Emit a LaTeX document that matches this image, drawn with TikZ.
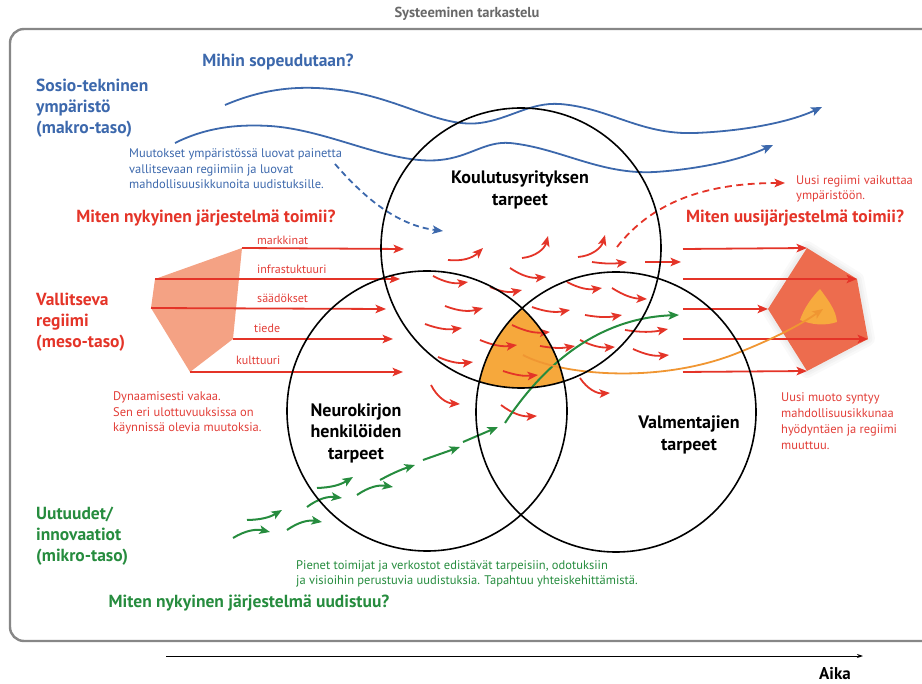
\documentclass[tikz,border=0pt]{standalone}
\usepackage{fontspec}
\setmainfont{PT Sans}
\usetikzlibrary{arrows.meta}

\definecolor{framegray}{RGB}{135,135,135}
\definecolor{titlegray}{RGB}{105,105,105}
\definecolor{envblue}{RGB}{60,104,172}
\definecolor{regred}{RGB}{228,52,40}
\definecolor{txtred}{RGB}{226,62,56}
\definecolor{innogreen}{RGB}{38,140,62}
\definecolor{overlap}{RGB}{246,168,60}
\definecolor{oldregime}{RGB}{244,162,132}
\definecolor{newregime}{RGB}{237,108,78}
\definecolor{corefill}{RGB}{247,170,62}
\definecolor{orangeline}{RGB}{240,150,50}

\begin{document}
\begin{tikzpicture}[x=1pt,y=-1pt,
  head/.style={-{Stealth[length=10.5pt,width=8.5pt,inset=2.5pt]}},
  bighead/.style={-{Stealth[length=11pt,width=9pt,inset=2.5pt]}},
  heading/.style={font=\fontsize{17.5}{21}\selectfont\bfseries, inner sep=0pt},
  needs/.style={font=\fontsize{18}{21.5}\selectfont\bfseries, align=center, inner sep=0pt},
  note/.style={font=\fontsize{12.5}{15.5}\selectfont, align=left, inner sep=0pt, anchor=west},
  tag/.style={font=\fontsize{12}{14}\selectfont, text=txtred, anchor=west, inner sep=0pt},
  needcircle/.style={circle, draw=black, line width=1.6pt, minimum size=280pt, inner sep=0pt},
  flow/.style={regred, line width=1.8pt, head},
  wave/.style={envblue, line width=1.8pt, bighead},
  sprout/.style={innogreen, line width=2pt, head},
  cu/.style={bend right=#1},
]
\useasboundingbox (0,0) rectangle (922,684);

% outer frame and heading
\draw[framegray, line width=2.4pt, rounded corners=14pt] (10,29) rectangle (945,641);
\node[font=\fontsize{14.5}{16}\selectfont\bfseries, text=titlegray] (title) at (467,14) {Systeeminen tarkastelu};

% overlap of the three need areas
\begin{scope}
  \clip (521,248) circle[radius=140pt];
  \clip (427,411) circle[radius=140pt];
  \fill[overlap] (616,412) circle[radius=140pt];
\end{scope}

% prevailing regime (left) and new regime (right)
\coordinate (p1) at (242,248);
\coordinate (p2) at (155,279);
\coordinate (p3) at (151,308);
\coordinate (p4) at (190,372);
\coordinate (p5) at (233,339);
\fill[oldregime] (p1) -- (p2) -- (p3) -- (p4) -- (p5) -- cycle;

\coordinate (q1) at (807,248);
\coordinate (q2) at (857,279);
\coordinate (q3) at (768,309);
\coordinate (q4) at (868,339);
\coordinate (q5) at (807,371);
\foreach \w in {14,9,5}
  \draw[black, line width=\w pt, opacity=0.025, line join=round] (q1) -- (q2) -- (q4) -- (q5) -- (q3) -- cycle;
\fill[newregime] (q1) -- (q2) -- (q4) -- (q5) -- (q3) -- cycle;
\fill[corefill] (820,289) .. controls (828,300) and (836,310) .. (837,322)
  .. controls (825,326) and (812,325) .. (800,320)
  .. controls (804,308) and (812,297) .. (820,289) -- cycle;

% macro level: landscape waves
\draw[wave] (225,105) .. controls (265,88) and (300,85) .. (340,90)
  .. controls (400,98) and (440,128) .. (480,123)
  .. controls (510,119) and (530,102) .. (560,104)
  .. controls (610,108) and (640,135) .. (695,133)
  .. controls (745,131) and (790,122) .. (822,107);
\draw[wave] (175,143) .. controls (205,128) and (235,124) .. (270,126)
  .. controls (330,130) and (390,165) .. (440,160)
  .. controls (470,157) and (485,141) .. (510,143)
  .. controls (560,148) and (600,175) .. (655,172)
  .. controls (700,169) and (740,160) .. (773,145);

\node[heading, text=envblue] (whither) at (278,62) {Mihin sopeudutaan?};
\node[heading, text=envblue, align=left, anchor=west] (macro) at (36,108)
  {Sosio-tekninen\\ympäristö\\(makro-taso)};
\node[note, text=envblue] (pressure) at (129,169)
  {Muutokset ympäristössä luovat painetta\\vallitsevaan regiimiin ja luovat\\mahdollisuusikkunoita uudistuksille.};
\coordinate (pressEnd) at (443,231);
\draw[envblue, line width=1.8pt, dash pattern=on 6pt off 4pt, head] (335,164) .. controls (362,195) and (395,225) .. (pressEnd);

% meso level
\node[heading, text=regred] (howNow) at (206,218) {Miten nykyinen järjestelmä toimii?};
\node[heading, text=regred, align=left, anchor=west] (meso) at (36,322)
  {Vallitseva\\regiimi\\(meso-taso)};
\node[note, text=txtred] (stable) at (113,413)
  {Dynaamisesti vakaa.\\Sen eri ulottuvuuksissa on\\käynnissä olevia muutoksia.};

\coordinate (e1) at (404,249);
\coordinate (e2) at (400,279);
\coordinate (e3) at (386,309);
\coordinate (e4) at (393,339);
\coordinate (e5) at (403,372);
\draw[flow] (p1) -- (e1);
\draw[flow] (p2) -- (e2);
\draw[flow] (p3) -- (e3);
\draw[flow] (p5) -- (e4);
\draw[flow] (p4) -- (e5);
\node[tag] (l1) at (257,240) {markkinat};
\node[tag] (l2) at (257,269) {infrastuktuuri};
\node[tag] (l3) at (257,298) {säädökset};
\node[tag] (l4) at (254,328) {tiede};
\node[tag] (l5) at (236,360) {kulttuuri};

% the regime in motion
\foreach \ax/\ay/\bx/\by/\bd in {
  448/260/483/248/25, 522/258/548/236/35, 578/257/605/235/35,
  592/262/627/262/8, 645/262/681/262/0, 510/268/546/277/20,
  433/276/468/282/18, 490/287/522/290/18, 567/282/602/288/18,
  612/288/647/299/15, 445/306/483/308/18, 532/307/570/310/15,
  585/315/622/315/10, 425/324/462/328/14, 512/325/550/332/15,
  625/330/668/329/10, 480/340/517/345/15, 540/346/575/346/10,
  580/340/615/347/15, 633/349/669/355/15, 438/357/473/362/15,
  503/371/538/375/12, 431/385/460/404/30, 580/378/610/393/30,
  501/405/537/416/20}
  \draw[flow] (\ax,\ay) to[cu=\bd] (\bx,\by);

\coordinate (dashEnd) at (785,183);
\draw[regred, line width=1.8pt, dash pattern=on 7pt off 4.5pt, head] (617,247) .. controls (650,205) and (700,183) .. (dashEnd);
\node[note, text=txtred] (affects) at (796,189) {Uusi regiimi vaikuttaa\\ympäristöön.};
\node[heading, text=regred, anchor=west] (howNew) at (686,218) {Miten uusijärjestelmä toimii?};

\coordinate (s1) at (683,249);
\coordinate (s2) at (683,279);
\coordinate (s3) at (683,309);
\coordinate (s4) at (683,339);
\coordinate (s5) at (683,372);
\draw[flow] (s1) -- (q1);
\draw[flow] (s2) -- (q2);
\draw[flow] (s3) -- (q3);
\draw[flow] (s4) -- (q4);
\draw[flow] (s5) -- (q5);
\node[note, text=txtred, font=\fontsize{12.5}{16}\selectfont] (newform) at (781,421)
  {Uusi muoto syntyy\\mahdollisuusikkunaa\\hyödyntäen ja regiimi\\muuttuu.};

% micro level: niche innovations
\foreach \ax/\ay/\bx/\by/\bd in {
  247/520/282/510/15, 233/538/270/532/-22, 287/530/322/522/-22,
  307/507/342/498/-22, 317/488/353/477/15, 357/495/393/487/-22,
  380/480/415/465/-5, 423/460/460/447/0, 463/442/498/427/0}
  \draw[sprout] (\ax,\ay) to[cu=\bd] (\bx,\by);
\coordinate (breakEnd) at (679,315);
\draw[sprout] (505,423) .. controls (545,362) and (600,318) .. (breakEnd);

\coordinate (coreEnd) at (823,309);
\draw[orangeline, line width=1.8pt, head] (523,355) .. controls (560,375) and (660,385) .. (740,352)
  .. controls (775,338) and (800,325) .. (coreEnd);

% need areas
\node[needcircle] (ctop) at (521,248) {};
\node[needcircle] (cleft) at (427,411) {};
\node[needcircle] (cright) at (616,412) {};
\node[needs] (ntop) at (520,190) {Koulutusyrityksen\\tarpeet};
\node[needs] (nleft) at (356,433) {Neurokirjon\\henkilöiden\\tarpeet};
\node[needs] (nright) at (689,435) {Valmentajien\\tarpeet};

\node[heading, text=innogreen, align=left, anchor=west] (micro) at (36,536)
  {Uutuudet/\\innovaatiot\\(mikro-taso)};
\node[note, text=innogreen] (actors) at (296,574)
  {Pienet toimijat ja verkostot edistävät tarpeisiin, odotuksiin\\ja visioihin perustuvia uudistuksia. Tapahtuu yhteiskehittämistä.};
\node[heading, text=innogreen] (howRenew) at (249,603) {Miten nykyinen järjestelmä uudistuu?};

% time axis
\coordinate (t0) at (166,656);
\coordinate (t1) at (863,656);
\draw[line width=0.9pt, -{Stealth[length=6pt,width=4pt]}] (t0) -- (t1);
\node[font=\fontsize{17}{18}\selectfont\bfseries, inner sep=0pt] (time) at (835,674) {Aika};
\end{tikzpicture}
\end{document}
